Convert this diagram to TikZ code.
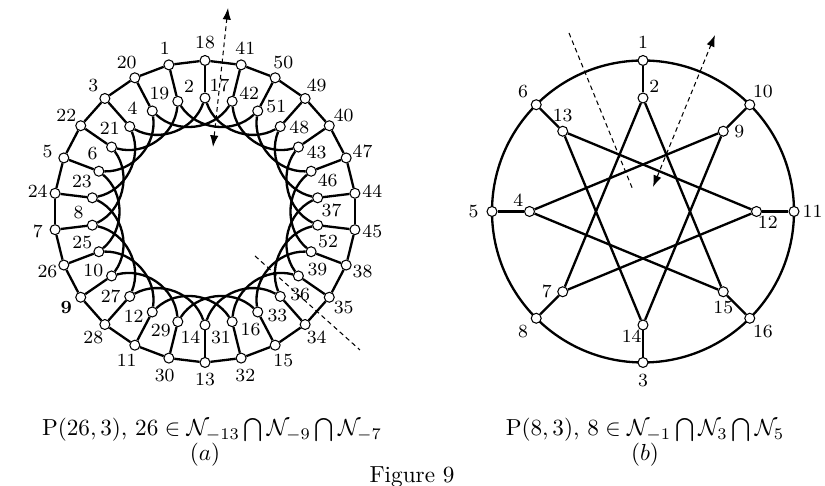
\documentclass[tikz,border=0pt]{standalone}
\usepackage{amsmath,amssymb}
\usetikzlibrary{arrows.meta,calc}

\begin{document}
\begin{tikzpicture}[
  x=0.431pt,
  y=0.431pt,
  font=\footnotesize,
  vtx/.style={circle, draw, fill=white, line width=0.45pt, inner sep=0pt, minimum size=4.3pt},
  edge/.style={line width=1pt},
  lbl/.style={inner sep=0pt},
  cut/.style={line width=0.45pt, dash pattern=on 2pt off 1.5pt},
  cutarrow/.style={cut, {Latex[length=5pt,width=3.6pt]}-{Latex[length=5pt,width=3.6pt]}}
]
\useasboundingbox (0,0) rectangle (825,486);
\clip (0,0) rectangle (825,486);

\coordinate (A) at (205,274.5);
\foreach \lo/\li [count=\j from 0] in {
  18/17, 1/2, 20/19, 3/4, 22/21, 5/6, 24/23, 7/8, 26/25, \textbf{9}/10, 28/27, 11/12, 30/29,
  13/14, 32/31, 15/16, 34/33, 35/36, 38/39, 45/52, 44/37, 47/46, 40/43, 49/48, 50/51, 41/42
}{
  \pgfmathsetmacro{\ang}{90+360/26*\j}
  \node[vtx] (a-o-\j) at ($(A)+(\ang:151)$) {};
  \node[vtx] (a-i-\j) at ($(A)+(\ang:113.5)$) {};
  \node[lbl] (a-lo-\j) at ($(A)+(\ang:168.5)$) {\lo};
  \node[lbl] (a-li-\j) at ($(a-i-\j)+(\ang-50:19)$) {\li};
}
\foreach \j in {0,...,25}{
  \pgfmathtruncatemacro{\n}{mod(\j+1,26)}
  \pgfmathtruncatemacro{\k}{mod(\j+3,26)}
  \draw[edge] (a-o-\j) -- (a-o-\n);
  \draw[edge] (a-o-\j) -- (a-i-\j);
  \draw[edge] (a-i-\j) to[bend left=50] (a-i-\k);
}

\coordinate (B) at (643,274.5);
\draw[edge] (B) circle[radius=151];
\foreach \lo/\li [count=\k from 0] in {1/2, 10/9, 11/12, 16/15, 3/14, 8/7, 5/4, 6/13}{
  \pgfmathsetmacro{\ang}{90-45*\k}
  \node[vtx] (b-o-\k) at ($(B)+(\ang:151)$) {};
  \node[vtx] (b-i-\k) at ($(B)+(\ang:113.5)$) {};
  \node[lbl] (b-lo-\k) at ($(B)+(\ang:169.5)$) {\lo};
  \node[lbl] (b-li-\k) at ($(b-i-\k)+(\ang-45:16)$) {\li};
}
\foreach \k in {0,...,7}{
  \pgfmathtruncatemacro{\m}{mod(\k+3,8)}
  \draw[edge] (b-o-\k) -- (b-i-\k);
  \draw[edge] (b-i-\k) -- (b-i-\m);
}

\coordinate (a-dn) at (213,339);
\coordinate (a-up) at (228,478);
\draw[cutarrow] (a-dn) -- (a-up);
\coordinate (a-c1) at (255,230);
\coordinate (a-c2) at (360,136);
\draw[cut] (a-c1) -- (a-c2);
\coordinate (b-c1) at (569,453);
\coordinate (b-c2) at (633,296);
\draw[cut] (b-c1) -- (b-c2);
\coordinate (b-dn) at (653,299);
\coordinate (b-up) at (715,451);
\draw[cutarrow] (b-dn) -- (b-up);

\node[font=\normalsize] (cap-a) at (212,56) {$\mathrm{P}(26,3)$, $26\in\mathcal{N}_{-13}\bigcap\mathcal{N}_{-9}\bigcap\mathcal{N}_{-7}$};
\node[font=\normalsize] (sub-a) at (205,31) {$(a)$};
\node[font=\normalsize] (cap-b) at (645,56) {$\mathrm{P}(8,3)$, $8\in\mathcal{N}_{-1}\bigcap\mathcal{N}_{3}\bigcap\mathcal{N}_{5}$};
\node[font=\normalsize] (sub-b) at (645,31) {$(b)$};
\node[font=\normalsize, anchor=base] (fig) at (412,3) {Figure 9};
\end{tikzpicture}
\end{document}
